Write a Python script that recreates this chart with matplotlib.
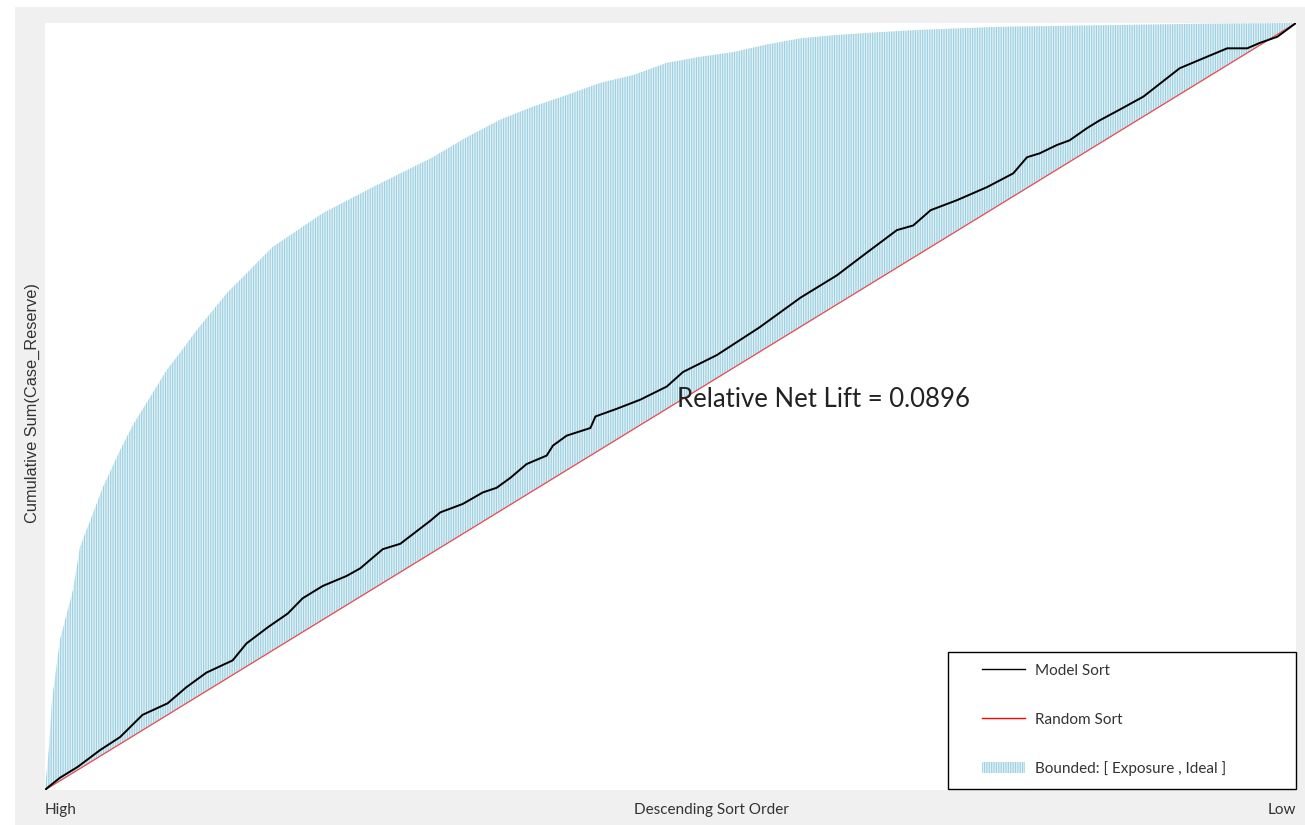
import matplotlib
matplotlib.use("Agg")
import matplotlib.pyplot as plt
from matplotlib.lines import Line2D
from matplotlib.patches import Patch, Rectangle

# sort position (0 = high, 1 = low) and cumulative share of Case_Reserve
ideal_x = [0.0, 0.0032, 0.0056, 0.0080, 0.0120, 0.0176, 0.0224, 0.0280, 0.0384,
           0.0464, 0.0600, 0.0703, 0.0839, 0.0975, 0.1079, 0.1215, 0.1455, 0.182,
           0.222, 0.262, 0.310, 0.337, 0.364, 0.390, 0.417, 0.444, 0.470, 0.497,
           0.524, 0.550, 0.577, 0.604, 0.630, 0.657, 0.699, 0.763, 0.843, 0.923, 1.0]
ideal_y = [0.0, 0.056, 0.117, 0.147, 0.196, 0.231, 0.261, 0.317, 0.361,
           0.395, 0.443, 0.476, 0.512, 0.548, 0.570, 0.600, 0.648, 0.708,
           0.752, 0.786, 0.825, 0.851, 0.874, 0.891, 0.906, 0.922, 0.932, 0.948,
           0.956, 0.962, 0.972, 0.980, 0.984, 0.987, 0.991, 0.995, 0.997, 0.999, 1.0]

model_x = [0.0, 0.002, 0.012, 0.026, 0.044, 0.060, 0.078, 0.098, 0.113, 0.129,
           0.150, 0.161, 0.178, 0.194, 0.206, 0.222, 0.241, 0.252, 0.270, 0.284,
           0.308, 0.316, 0.334, 0.350, 0.361, 0.372, 0.385, 0.401, 0.406, 0.417,
           0.436, 0.440, 0.457, 0.476, 0.497, 0.510, 0.537, 0.571, 0.604, 0.633,
           0.654, 0.681, 0.694, 0.708, 0.729, 0.753, 0.774, 0.785, 0.795, 0.809,
           0.819, 0.833, 0.843, 0.859, 0.878, 0.907, 0.923, 0.945, 0.961, 0.971,
           0.985, 1.0]
model_y = [0.0, 0.003, 0.016, 0.030, 0.052, 0.069, 0.098, 0.113, 0.134, 0.153,
           0.169, 0.191, 0.212, 0.230, 0.250, 0.266, 0.279, 0.289, 0.314, 0.321,
           0.351, 0.362, 0.373, 0.388, 0.394, 0.407, 0.425, 0.436, 0.449, 0.462,
           0.472, 0.487, 0.497, 0.509, 0.526, 0.545, 0.567, 0.603, 0.642, 0.671,
           0.697, 0.730, 0.736, 0.756, 0.769, 0.786, 0.804, 0.825, 0.830, 0.841,
           0.847, 0.863, 0.873, 0.887, 0.904, 0.941, 0.952, 0.967, 0.967, 0.974,
           0.982, 1.0]

random_x = [0.0, 1.0]
random_y = [0.0, 1.0]

lift_text = "Relative Net Lift = 0.0896"
labels = ["Model Sort", "Random Sort", "Bounded: [ Exposure , Ideal ]"]

plt.rcParams['hatch.linewidth'] = 0.8

fig = plt.figure(figsize=(13.05, 8.25), dpi=100)
fig.patch.set_facecolor('white')
fig.patches.append(Rectangle((15 / 1305, 0), 1, 818 / 825, transform=fig.transFigure,
                             facecolor='#f0f0f0', edgecolor='none', zorder=-10))

ax = fig.add_axes([45 / 1305, 35 / 825, 1251 / 1305, 767 / 825])
ax.set_facecolor('white')

# band between random line and ideal curve
ax.fill(ideal_x, ideal_y, facecolor='#e1f1f7', edgecolor='none', zorder=1)
ax.fill(ideal_x, ideal_y, facecolor='none', edgecolor='#9ccfdf', hatch='|' * 7,
        linewidth=0, zorder=2)

ax.plot(random_x, random_y, color='#e8484f', lw=0.9, zorder=3)
ax.plot(model_x, model_y, color='black', lw=1.4, zorder=4)

ax.set_xlim(0, 1)
ax.set_ylim(0, 1)
ax.set_xticks([])
ax.set_yticks([])
for s in ax.spines.values():
    s.set_visible(False)

txt_font = 'Lato'
ax.text(0.505, 0.5085, lift_text, transform=ax.transAxes, fontsize=18.5,
        family=txt_font, color='#222222', va='center', ha='left', zorder=6)

ax.text(0.0, -0.026, "High", transform=ax.transAxes, fontsize=11, family=txt_font,
        color='#333333', ha='left', va='center')
ax.text(1.0, -0.026, "Low", transform=ax.transAxes, fontsize=11, family=txt_font,
        color='#333333', ha='right', va='center')
ax.text(0.533, -0.026, "Descending Sort Order", transform=ax.transAxes, fontsize=11,
        family=txt_font, color='#333333', ha='center', va='center')
ax.text(-0.0104, 0.505, "Cumulative Sum(Case_Reserve)", transform=ax.transAxes,
        fontsize=11.8, family='Liberation Sans', color='#333333', rotation=90,
        ha='center', va='center')

# legend box
ax.add_patch(Rectangle((0.7218, 0.001), 0.2782, 0.1786, transform=ax.transAxes,
                       facecolor='white', edgecolor='black', lw=1.0, zorder=7,
                       clip_on=False))
handles = [Line2D([], [], color='black', lw=1.0),
           Line2D([], [], color='red', lw=1.0),
           Patch(facecolor='#e1f1f7', edgecolor='#9ccfdf', hatch='|' * 7, lw=0)]
leg = ax.legend(handles, labels, loc='center left', bbox_to_anchor=(0.743, 0.0913),
                frameon=False, borderpad=0, labelspacing=2.27, handlelength=2.8,
                handletextpad=0.65, prop={'family': txt_font, 'size': 11})
leg.set_zorder(8)
for t in leg.get_texts():
    t.set_color('#333333')

fig.savefig('out.png', dpi=100, facecolor=fig.get_facecolor())
